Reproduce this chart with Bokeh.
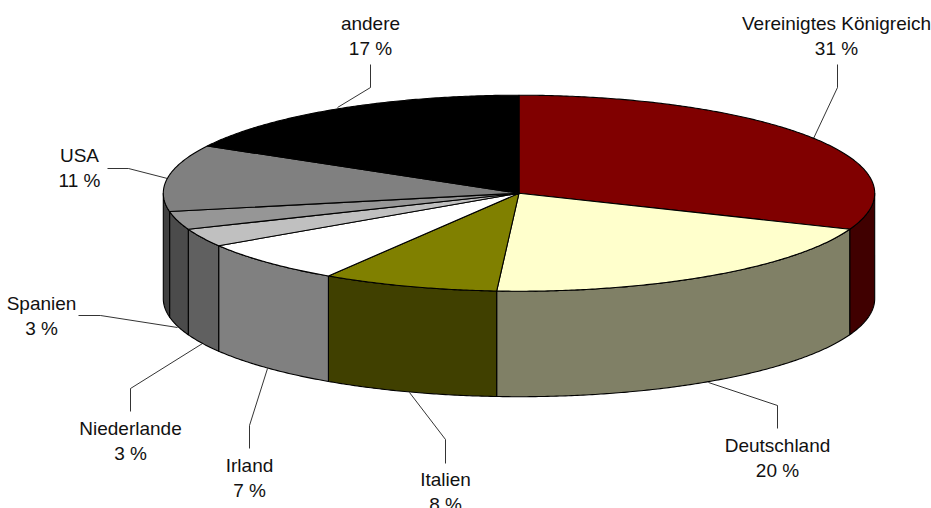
import numpy as np
from bokeh.core.properties import value
from bokeh.embed import file_html
from bokeh.models import ColumnDataSource, Range1d
from bokeh.plotting import figure
from bokeh.resources import INLINE

# Export shares in percent, clockwise from twelve o'clock
countries = ["Vereinigtes Königreich", "Deutschland", "Italien", "Irland",
             "Niederlande", "Spanien", "USA", "andere"]
shares = [31, 20, 8, 7, 3, 3, 11, 17]
top_colors = ["#800000", "#FFFFCC", "#808000", "#FFFFFF",
              "#C0C0C0", "#969696", "#808080", "#000000"]
wall_colors = ["#400000", "#808066", "#404000", "#808080",
               "#606060", "#4B4B4B", "#404040", "#000000"]

# Label anchor (x, first baseline) per country
label_x = [836, 777, 445, 249, 130, 41, 79, 370]
label_y = [23, 445, 479, 465, 428, 303, 155, 23]
LINE_GAP = 25

# Leader lines: start, knee and end of each polyline
leaders_x = [[837, 837, 813], [777, 777, 708], [445, 445, 409], [249, 249, 267],
             [130, 130, 202], [78, 100, 177], [107, 128, 167], [370, 370, 337]]
leaders_y = [[64, 87, 138], [428, 405, 382], [463, 439, 392], [448, 425, 368],
             [411, 388, 343], [315, 315, 327], [168, 168, 178], [64, 87, 107]]

# Pie geometry in screen pixels
CX, CY, RX, RY, DEPTH = 518.5, 192.7, 355.7, 98.0, 105.5


def rim(a0, a1, drop=0.0):
    """Points on the ellipse between two clockwise angles measured from the top."""
    n = max(2, int(abs(a1 - a0) * 120))
    t = np.linspace(a0, a1, n)
    return CX + RX * np.sin(t), CY - RY * np.cos(t) + drop


edges = 2 * np.pi * np.concatenate([[0], np.cumsum(shares)]) / sum(shares)

p = figure(width=931, height=508, output_backend="svg", toolbar_location=None,
           x_range=Range1d(0, 931), y_range=Range1d(508, 0),
           min_border=0, outline_line_color=None, background_fill_color="white")
p.axis.visible = False
p.grid.visible = False

# Outer wall of the near half of the disc
for a0, a1, c in zip(edges[:-1], edges[1:], wall_colors):
    lo, hi = max(a0, np.pi / 2), min(a1, 3 * np.pi / 2)
    if lo >= hi:
        continue
    x1, y1 = rim(lo, hi)
    x2, y2 = rim(hi, lo, DEPTH)
    p.patch(np.r_[x1, x2], np.r_[y1, y2], fill_color=c,
            line_color="black", line_width=1.1, line_join="round")

# Top face of every slice
for a0, a1, c in zip(edges[:-1], edges[1:], top_colors):
    x1, y1 = rim(a0, a1)
    p.patch(np.r_[CX, x1], np.r_[CY, y1], fill_color=c,
            line_color="black", line_width=1.1, line_join="round")

# Leaders and two-line labels
p.multi_line(leaders_x, leaders_y, line_color="black", line_width=0.8)

percent = [f"{s} %" for s in shares]
labels = ColumnDataSource(dict(
    x=label_x * 2,
    y=label_y + [y + LINE_GAP for y in label_y],
    t=countries + percent,
))
p.text("x", "y", text="t", source=labels, text_font=value("Liberation Sans"),
       text_font_size="19px", text_color="#111111",
       text_align="center", text_baseline="alphabetic")

open("out.html", "w").write(file_html(p, INLINE))
